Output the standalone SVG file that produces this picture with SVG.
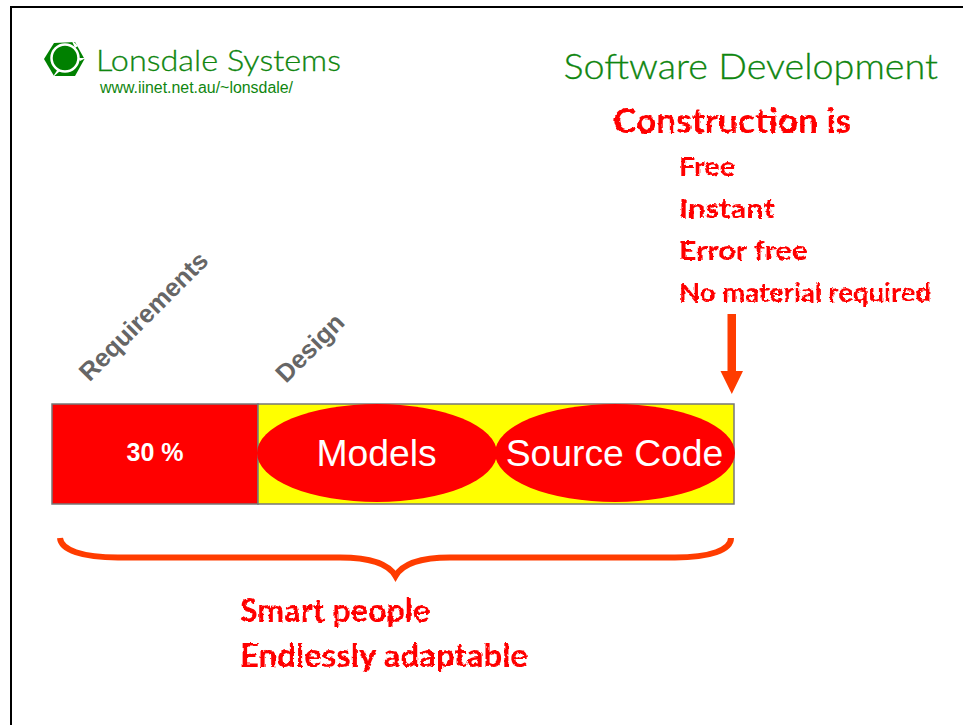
<svg xmlns="http://www.w3.org/2000/svg" width="963" height="725" viewBox="0 0 963 725">
<defs>
<filter id="rough" filterUnits="userSpaceOnUse" x="200" y="90" width="760" height="600">
<feTurbulence type="fractalNoise" baseFrequency="0.22" numOctaves="2" seed="4" result="n"/>
<feDisplacementMap in="SourceGraphic" in2="n" scale="3.5" xChannelSelector="R" yChannelSelector="G"/>
</filter>
</defs>
<style>
.hand{font-family:"Lato","Liberation Sans",sans-serif;font-weight:700;fill:#ff0000}
.brand{font-family:"Lato","Liberation Sans",sans-serif;font-weight:300;fill:#0f860f;stroke:#0f860f;stroke-width:.3}
.axis{font-family:"Liberation Sans",sans-serif;font-weight:700;font-size:25.500px;fill:#666666}
.inner{font-family:"Liberation Sans",sans-serif;font-size:37.300px;fill:#ffffff;text-anchor:middle}
.block{stroke:#777777;stroke-width:1.5}
</style>
<rect width="963" height="725" fill="#ffffff"/>
<path d="M11 725V7H963" fill="none" stroke="#000000" stroke-width="2"/>
<g id="logo">
<polygon points="44,59 54,43 75,42 84.500,59 75,76 54,76" fill="#008000"/>
<circle cx="65" cy="58" r="13.500" fill="#008000" stroke="#ffffff" stroke-width="2.500"/>
<path d="M71 39L78 46L75 48ZM86 58L80 61L78 58ZM52 78L58 69L60 71Z" fill="#ffffff"/>
</g>
<text id="brand-name" class="brand" x="96" y="71" font-size="30" textLength="245" lengthAdjust="spacingAndGlyphs">Lonsdale Systems</text>
<text id="brand-url" x="100" y="92.500" font-family="Liberation Sans, sans-serif" font-size="16" fill="#0f860f" textLength="193" lengthAdjust="spacingAndGlyphs">www.iinet.net.au/~lonsdale/</text>
<text id="title" class="brand" x="563.500" y="79" font-size="36" textLength="374.500" lengthAdjust="spacingAndGlyphs">Software Development</text>
<g id="notes" filter="url(#rough)">
<text class="hand" x="613" y="133" font-size="34" textLength="238" lengthAdjust="spacingAndGlyphs">Construction is</text>
<text class="hand" x="679" y="176" font-size="27" textLength="56" lengthAdjust="spacingAndGlyphs">Free</text>
<text class="hand" x="679" y="218" font-size="27" textLength="96" lengthAdjust="spacingAndGlyphs">Instant</text>
<text class="hand" x="679" y="260" font-size="27" textLength="129" lengthAdjust="spacingAndGlyphs">Error free</text>
<text class="hand" x="679" y="302" font-size="27" textLength="252" lengthAdjust="spacingAndGlyphs">No material required</text>
<text class="hand" x="240" y="622" font-size="32" textLength="190" lengthAdjust="spacingAndGlyphs">Smart people</text>
<text class="hand" x="240" y="667" font-size="32" textLength="288" lengthAdjust="spacingAndGlyphs">Endlessly adaptable</text>
</g>
<g id="requirements-label"><text class="axis" transform="translate(89.500 382.500) rotate(-45)">Requirements</text></g>
<g id="design-label"><text class="axis" transform="translate(286 384) rotate(-45)">Design</text></g>
<g id="requirements">
<rect class="block" x="52" y="404" width="206" height="100" fill="#ff0000"/>
<text x="155" y="461" font-family="Liberation Sans, sans-serif" font-weight="700" font-size="25" fill="#ffffff" text-anchor="middle">30 %</text>
</g>
<g id="design">
<rect class="block" x="258" y="404" width="476" height="100" fill="#ffff00"/>
</g>
<g id="models">
<ellipse cx="377" cy="453" rx="120" ry="49" fill="#ff0000"/>
<text class="inner" x="376.500" y="466">Models</text>
</g>
<g id="source-code">
<ellipse cx="615" cy="453" rx="120" ry="49" fill="#ff0000"/>
<text class="inner" x="614.500" y="466">Source Code</text>
</g>
<g id="connectors">
<path d="M727.500 314H736V371H743L731.800 394L720.500 371H727.500Z" fill="#ff3c00"/>
<path d="M60 538C61 550 82 557.500 118 557.500H340C368 557.500 388 563 395.500 576C403 563 423 557.500 450 557.500H675C710 557.500 731 550 731 538" fill="none" stroke="#ff3c00" stroke-width="6"/>
<path d="M392.500 573L395.500 581L398.500 573Z" fill="#ff3c00"/>
</g>
</svg>
